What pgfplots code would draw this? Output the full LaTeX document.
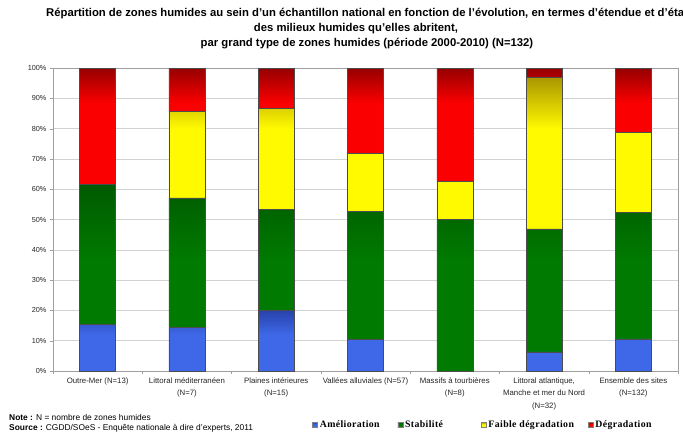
\documentclass[border=0pt]{standalone}
\usepackage{fontspec}
\setmainfont{Liberation Sans}
\newfontfamily\legendfont[LetterSpace=4]{Liberation Serif}
\usepackage{pgfplots}
\pgfplotsset{compat=1.18}
\usepackage{pgfplotstable}

% bar colours (bright body, darker top for the gradient)
\definecolor{bleu}{RGB}{62,104,232}
\definecolor{bleuf}{RGB}{40,66,170}
\definecolor{vert}{RGB}{0,122,0}
\definecolor{vertf}{RGB}{0,90,0}
\definecolor{jaune}{RGB}{255,250,0}
\definecolor{jaunef}{RGB}{170,150,0}
\definecolor{rouge}{RGB}{250,0,0}
\definecolor{rougef}{RGB}{150,0,0}
% legend keys
\definecolor{legbleu}{RGB}{50,60,160}
\definecolor{legvert}{RGB}{20,40,20}
\definecolor{legjaune}{RGB}{215,220,140}
\definecolor{legrouge}{RGB}{190,0,50}

% gradients: flat body, darkening towards the top of each bar
% (the path spans 25bp--75bp of the shading)
\pgfdeclareverticalshading{shbleu}{100bp}{color(0bp)=(bleu); color(55bp)=(bleu); color(75bp)=(bleuf); color(100bp)=(bleuf)}
\pgfdeclareverticalshading{shvert}{100bp}{color(0bp)=(vert); color(55bp)=(vert); color(75bp)=(vertf); color(100bp)=(vertf)}
\pgfdeclareverticalshading{shjaune}{100bp}{color(0bp)=(jaune); color(58bp)=(jaune); color(75bp)=(jaunef); color(100bp)=(jaunef)}
\pgfdeclareverticalshading{shrouge}{100bp}{color(0bp)=(rouge); color(60bp)=(rouge); color(75bp)=(rougef); color(100bp)=(rougef)}

% share (%) of sites per type of wetland
\pgfplotstableread{
x amel stab faible degr
0 15.4 46.1 0.0  38.5
1 14.3 42.8 28.6 14.3
2 20.0 33.3 33.4 13.3
3 10.5 42.1 19.3 28.1
4 0.0  50.0 12.5 37.5
5 6.3  40.6 50.0 3.1
6 10.6 41.7 26.5 21.2
}\datatable

\begin{document}
\begin{tikzpicture}
\path[use as bounding box, fill=white] (0pt,0pt) rectangle (683pt,-432pt);

\begin{axis}[
  at={(53pt,-371pt)}, anchor=south west,
  width=625pt, height=303pt, scale only axis,
  xmin=-0.5, xmax=6.5, ymin=0, ymax=100,
  ybar stacked, bar width=36pt,
  xtick={0,...,6},
  xticklabels={
    {Outre-Mer (N=13)},
    {Littoral méditerranéen\\(N=7)},
    {Plaines intérieures\\(N=15)},
    {Vallées alluviales (N=57)},
    {Massifs à tourbières\\(N=8)},
    {Littoral atlantique,\\Manche et mer du Nord\\(N=32)},
    {Ensemble des sites\\(N=132)}},
  xticklabel style={align=center, font=\fontsize{7.8}{12.5}\selectfont, text=black!85},
  major x tick style={draw=none},
  minor xtick={-0.5,0.5,...,6.5},
  minor tick length=3pt, major tick length=3pt,
  tick align=outside, tick pos=left,
  ytick={0,10,...,100},
  yticklabel={\pgfmathprintnumber{\tick}\%},
  /pgf/number format/assume math mode=true,
  yticklabel style={font=\fontsize{7.3}{8}\selectfont, text=black!85},
  ymajorgrids, grid style={gray!35, line width=0.5pt},
  axis line style={gray!75},
  tick style={gray!75},
  legend style={at={(0.688,-0.178)}, anchor=center, draw=none, fill=none,
    legend columns=4,
    font=\legendfont\bfseries\fontsize{9.8}{11}\selectfont,
    /tikz/column 2/.style={column sep=16pt},
    /tikz/column 4/.style={column sep=36pt},
    /tikz/column 6/.style={column sep=12pt}},
]
\addplot[draw=black!70, line width=0.4pt, shading=shbleu,
  legend image code/.code={\filldraw[fill=legbleu, draw=gray] (0pt,-2.6pt) rectangle (5pt,2.6pt);}]
  table[x=x, y=amel] {\datatable};
\addlegendentry{Amélioration}
\addplot[draw=black!70, line width=0.4pt, shading=shvert,
  legend image code/.code={\filldraw[fill=legvert, draw=gray] (0pt,-2.6pt) rectangle (5pt,2.6pt);}]
  table[x=x, y=stab] {\datatable};
\addlegendentry{Stabilité}
\addplot[draw=black!70, line width=0.4pt, shading=shjaune,
  legend image code/.code={\filldraw[fill=legjaune, draw=gray] (0pt,-2.6pt) rectangle (5pt,2.6pt);}]
  table[x=x, y=faible] {\datatable};
\addlegendentry{Faible dégradation}
\addplot[draw=black!70, line width=0.4pt, shading=shrouge,
  legend image code/.code={\filldraw[fill=legrouge, draw=gray] (0pt,-2.6pt) rectangle (5pt,2.6pt);}]
  table[x=x, y=degr] {\datatable};
\addlegendentry{Dégradation}
\end{axis}

% title
\node[font=\bfseries\fontsize{11.3}{13}\selectfont] at (367pt,-14pt)
  {Répartition de zones humides au sein d'un échantillon national en fonction de l'évolution, en termes d'étendue et d'état};
\node[font=\bfseries\fontsize{11.3}{13}\selectfont] at (356pt,-29pt)
  {des milieux humides qu'elles abritent,};
\node[font=\bfseries\fontsize{11.3}{13}\selectfont] at (367pt,-44pt)
  {par grand type de zones humides (période 2000-2010) (N=132)};

% notes
\node[anchor=base west, font=\fontsize{8.4}{9}\selectfont, inner sep=0pt] at (9pt,-420pt)
  {\textbf{Note :} N = nombre de zones humides};
\node[anchor=base west, font=\fontsize{8.4}{9}\selectfont, inner sep=0pt] at (9pt,-430.5pt)
  {\textbf{Source :} CGDD/SOeS - Enquête nationale à dire d'experts, 2011};
\end{tikzpicture}
\end{document}
